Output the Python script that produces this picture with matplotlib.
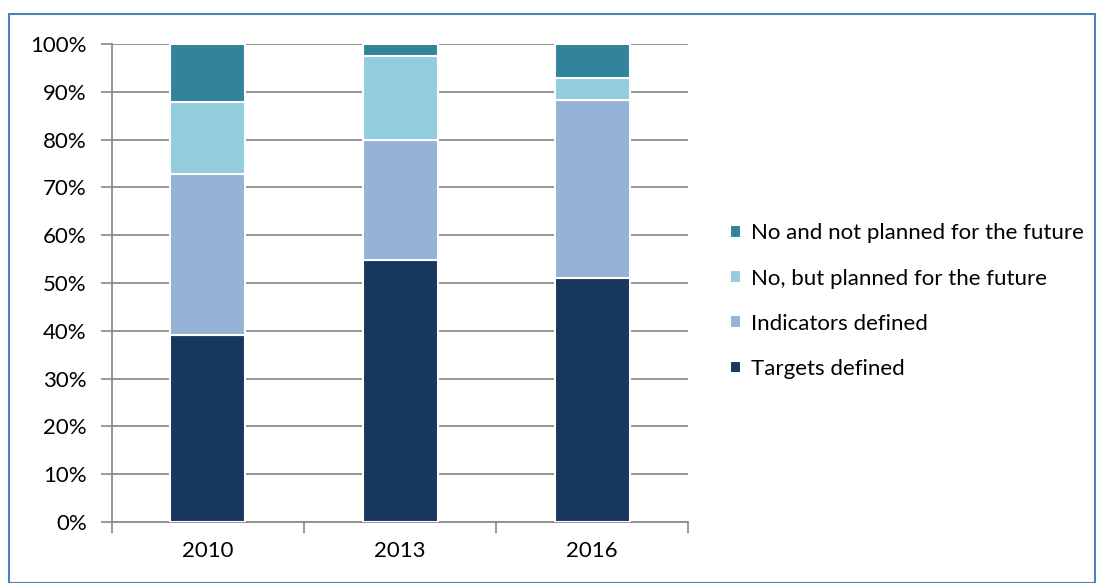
import matplotlib.pyplot as plt
import numpy as np
from matplotlib.patches import Rectangle

years = ['2010', '2013', '2016']
series_names = ['Targets defined', 'Indicators defined',
                'No, but planned for the future', 'No and not planned for the future']
targets = [39.2, 54.8, 51.0]
indicators = [33.6, 25.1, 37.3]
planned = [15.1, 17.6, 4.6]
not_planned = [12.1, 2.5, 7.1]
colores = ['#17375E', '#95B3D7', '#93CDDD', '#31849B']

plt.rcParams['font.family'] = ['Lato', 'DejaVu Sans']

fig = plt.figure(figsize=(10.96, 5.83), dpi=100)
ax = fig.add_axes([0.102, 0.1046, 0.526, 0.82])

x = np.arange(len(years))
base = np.zeros(len(years))
handles = []
for nombre, valores, color in zip(series_names, [targets, indicators, planned, not_planned], colores):
    b = ax.bar(x, valores, 0.39, bottom=base, color=color, edgecolor='white',
               linewidth=1.5, label=nombre, zorder=3)
    handles.append(b)
    base = base + np.array(valores)

ax.set_xlim(-0.5, 2.5)
ax.set_ylim(0, 100)
ax.set_yticks(range(0, 101, 10))
ax.set_yticklabels([f'{v}%' for v in range(0, 101, 10)], fontsize=16)
ax.set_xticks(x)
ax.set_xticklabels(years, fontsize=16)
ax.tick_params(axis='x', length=0, pad=14)
ax.set_xticks([-0.5, 0.5, 1.5, 2.5], minor=True)
ax.tick_params(axis='x', which='minor', length=8, color='#888888', width=1.2)
ax.tick_params(axis='y', length=8, color='#888888', width=1.2, pad=10)

ax.grid(axis='y', color='#8c8c8c', linewidth=1.3, zorder=0)
ax.set_axisbelow(True)
for lado in ['top', 'right']:
    ax.spines[lado].set_visible(False)
for lado in ['left', 'bottom']:
    ax.spines[lado].set_color('#8c8c8c')
    ax.spines[lado].set_linewidth(1.3)

ax.legend(handles[::-1], series_names[::-1], loc='center left',
          bbox_to_anchor=(1.037, 0.462), frameon=False, fontsize=16,
          handlelength=0.5, handleheight=0.5, handletextpad=0.45, labelspacing=1.13)

# marco azul del grafico
fig.patches.append(Rectangle((9 / 1096, 0), 1086 / 1096, 1 - 14 / 583, transform=fig.transFigure,
                             fill=False, edgecolor='#4F81BD', linewidth=1.5))

fig.savefig('out.png', dpi=100)
